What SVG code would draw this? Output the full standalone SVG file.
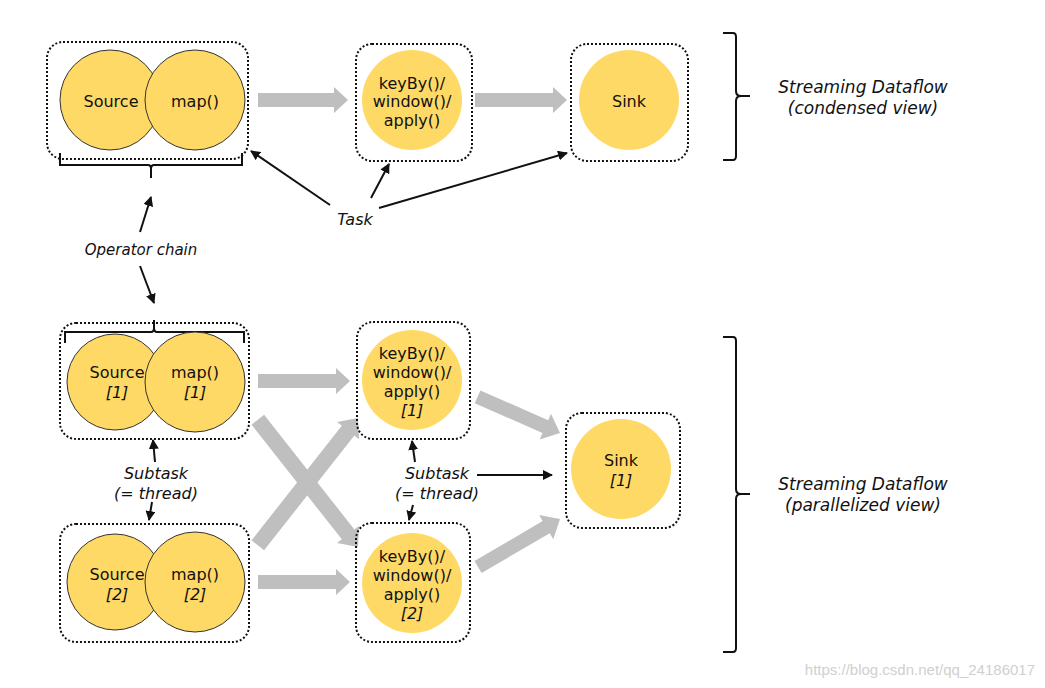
<svg xmlns="http://www.w3.org/2000/svg" width="1045" height="688" viewBox="0 0 1045 688">
<defs>
<style>
.box{fill:none;stroke:#111;stroke-width:2;stroke-dasharray:2 2}
.op{fill:#FFD966;stroke:#333;stroke-width:1}
.opn{fill:#FFD966}
.t{font-family:"DejaVu Sans",Verdana,sans-serif;font-size:16px;fill:#111;text-anchor:middle}
.i{font-style:italic}
.lbl{font-family:"DejaVu Sans",Verdana,sans-serif;font-size:16px;font-style:italic;fill:#111;text-anchor:middle}
.big{font-size:17px}
.ga{fill:#BFBFBF}
.la{stroke:#111;stroke-width:2;fill:none;marker-end:url(#ah)}
.br{stroke:#111;stroke-width:2;fill:none}
</style>
<marker id="ah" viewBox="0 0 10 10" refX="9" refY="5" markerWidth="5" markerHeight="5" orient="auto" markerUnits="strokeWidth">
<path d="M0,0 L10,5 L0,10 Z" fill="#111"/>
</marker>
<polygon id="garrow" points="0,-7 -14,-7 -14,-13 0,0 -14,13 -14,7 0,7"/>
</defs>
<rect width="1045" height="688" fill="#fff"/>

<g id="connectors">
<!-- gray data arrows -->
<g class="ga">
<polygon points="258,93 334,93 334,87 348,100 334,113 334,107 258,107"/>
<polygon points="475,93 553,93 553,87 567,100 553,113 553,107 475,107"/>
<polygon points="258,374 336,374 336,368 350,381 336,394 336,388 258,388"/>
<polygon points="258,575 336,575 336,569 350,582 336,595 336,589 258,589"/>
<g transform="translate(358,547) rotate(51.8)"><polygon points="0,0 -16,-14 -16,-8 -162,-8 -162,8 -16,8 -16,14"/></g>
<g transform="translate(358,418) rotate(-51.8)"><polygon points="0,0 -16,-14 -16,-8 -162,-8 -162,8 -16,8 -16,14"/></g>
<g transform="translate(560,433) rotate(23.7)"><polygon points="0,0 -16,-14 -16,-7 -90,-7 -90,7 -16,7 -16,14"/></g>
<g transform="translate(560,519) rotate(-30.4)"><polygon points="0,0 -16,-14 -16,-7 -95,-7 -95,7 -16,7 -16,14"/></g>
</g>
<!-- label arrows -->
<line class="la" x1="330" y1="205" x2="251" y2="151"/>
<line class="la" x1="371" y1="198" x2="389" y2="164"/>
<line class="la" x1="379" y1="208" x2="567" y2="153"/>
<line class="la" x1="140" y1="232" x2="151" y2="197"/>
<line class="la" x1="140" y1="266" x2="154" y2="303"/>
<line class="la" x1="155" y1="462" x2="153" y2="440"/>
<line class="la" x1="152" y1="502" x2="149" y2="520"/>
<line class="la" x1="415" y1="462" x2="412" y2="441"/>
<line class="la" x1="413" y1="505" x2="409" y2="520"/>
<line class="la" x1="477" y1="475" x2="552" y2="475"/>
</g>

<g id="brackets">
<path class="br" d="M60,153 V165 H148 Q151,165 151,169 V178 M151,169 Q151,165 154,165 H242 V153"/>
<path class="br" d="M65,343 V332 H151 Q154,332 154,328 V320 M154,328 Q154,332 157,332 H244 V343"/>
<path class="br" d="M723,33 H733 Q736,33 736,37 V91 Q736,96 741,96 H750 M741,96 Q736,96 736,101 V156 Q736,160 733,160 H723"/>
<path class="br" d="M723,337 H733 Q736,337 736,341 V489 Q736,494 741,494 H750 M741,494 Q736,494 736,499 V648 Q736,652 733,652 H723"/>
</g>

<g id="chain-top">
<rect class="box" x="47" y="42" width="201" height="117" rx="16"/>
<circle class="op" cx="110" cy="100" r="50"/>
<text class="t" x="111" y="107">Source</text>
<circle class="op" cx="195" cy="100" r="50"/>
<text class="t" x="195" y="107">map()</text>
</g>

<g id="window-top">
<rect class="box" x="356" y="44" width="116" height="117" rx="16"/>
<circle class="opn" cx="412" cy="100" r="50"/>
<text class="t" x="412" y="89">keyBy()/</text>
<text class="t" x="412" y="107">window()/</text>
<text class="t" x="412" y="126">apply()</text>
</g>

<g id="sink-top">
<rect class="box" x="571" y="44" width="117" height="117" rx="16"/>
<circle class="opn" cx="629" cy="100" r="50"/>
<text class="t" x="629" y="107">Sink</text>
</g>

<g id="chain-1">
<rect class="box" x="60" y="323" width="189" height="116" rx="16"/>
<circle class="op" cx="115" cy="382" r="48"/>
<text class="t" x="117" y="378">Source</text>
<text class="t i" x="117" y="398">[1]</text>
<circle class="op" cx="195" cy="382" r="50"/>
<text class="t" x="195" y="378">map()</text>
<text class="t i" x="195" y="398">[1]</text>
</g>

<g id="chain-2">
<rect class="box" x="60" y="524" width="189" height="118" rx="16"/>
<circle class="op" cx="115" cy="582" r="48"/>
<text class="t" x="117" y="580">Source</text>
<text class="t i" x="117" y="600">[2]</text>
<circle class="op" cx="195" cy="582" r="50"/>
<text class="t" x="195" y="580">map()</text>
<text class="t i" x="195" y="600">[2]</text>
</g>

<g id="window-1">
<rect class="box" x="357" y="322" width="113" height="117" rx="16"/>
<circle class="opn" cx="412" cy="380" r="50"/>
<text class="t" x="412" y="359">keyBy()/</text>
<text class="t" x="412" y="378">window()/</text>
<text class="t" x="412" y="397">apply()</text>
<text class="t i" x="412" y="416">[1]</text>
</g>

<g id="window-2">
<rect class="box" x="356" y="523" width="114" height="119" rx="16"/>
<circle class="opn" cx="412" cy="583" r="50"/>
<text class="t" x="412" y="562">keyBy()/</text>
<text class="t" x="412" y="581">window()/</text>
<text class="t" x="412" y="600">apply()</text>
<text class="t i" x="412" y="619">[2]</text>
</g>

<g id="sink-1">
<rect class="box" x="566" y="413" width="114" height="115" rx="16"/>
<circle class="opn" cx="621" cy="469" r="50"/>
<text class="t" x="621" y="466">Sink</text>
<text class="t i" x="621" y="486">[1]</text>
</g>

<g id="labels">
<text class="lbl" x="355" y="225">Task</text>
<text class="lbl" x="141" y="255" style="font-size:15px">Operator chain</text>
<text class="lbl" x="156" y="479">Subtask</text>
<text class="lbl" x="156" y="499">(= thread)</text>
<text class="lbl" x="437" y="479">Subtask</text>
<text class="lbl" x="437" y="499">(= thread)</text>
<text class="lbl big" x="863" y="93">Streaming Dataflow</text>
<text class="lbl big" x="863" y="114">(condensed view)</text>
<text class="lbl big" x="863" y="490">Streaming Dataflow</text>
<text class="lbl big" x="863" y="511">(parallelized view)</text>
<text x="1035" y="675" text-anchor="end" font-family="Liberation Sans, Arial, sans-serif" font-size="15" fill="#d0d0d0">https://blog.csdn.net/qq_24186017</text>
</g>
</svg>
